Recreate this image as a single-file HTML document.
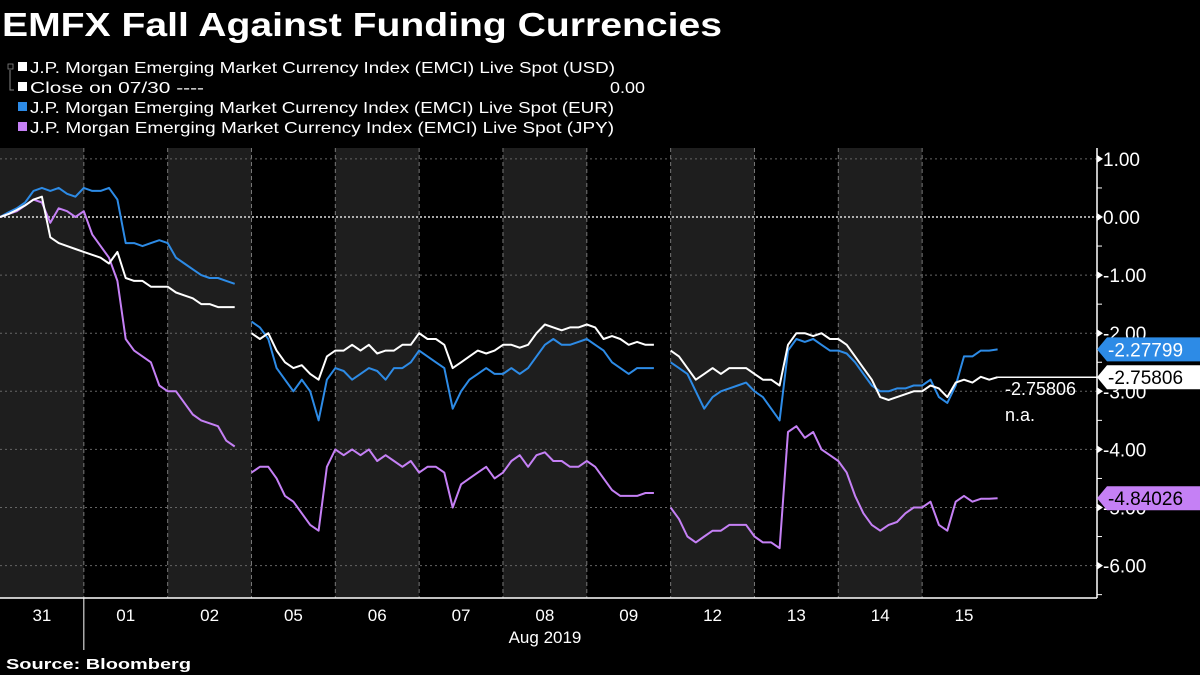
<!DOCTYPE html>
<html><head><meta charset="utf-8"><style>
body{margin:0;background:#000;width:1200px;height:675px;overflow:hidden;font-family:"Liberation Sans",sans-serif;color:#fff}
svg{position:absolute;left:0;top:0}
</style></head><body>
<svg width="1200" height="675">
<text x="2" y="36" font-size="33" font-weight="bold" fill="#fff" textLength="720" lengthAdjust="spacingAndGlyphs">EMFX Fall Against Funding Currencies</text>
<g font-size="16" fill="#fff">
 <rect x="8" y="64" width="5" height="5" fill="none" stroke="#888" stroke-width="0.8"/>
 <path d="M10 70 V90 H14" stroke="#888" fill="none"/>
 <rect x="18" y="62" width="9" height="9" fill="#fff"/><text x="30" y="73" textLength="585" lengthAdjust="spacingAndGlyphs">J.P. Morgan Emerging Market Currency Index (EMCI) Live Spot (USD)</text>
 <rect x="18" y="82" width="9" height="9" fill="#fff"/><text x="30" y="93" textLength="174" lengthAdjust="spacingAndGlyphs">Close on 07/30 ----</text>
 <text x="610" y="93" textLength="35" lengthAdjust="spacingAndGlyphs">0.00</text>
 <rect x="18" y="102" width="9" height="9" fill="#2d8be6"/><text x="30" y="113" textLength="584" lengthAdjust="spacingAndGlyphs">J.P. Morgan Emerging Market Currency Index (EMCI) Live Spot (EUR)</text>
 <rect x="18" y="122" width="9" height="9" fill="#c580f5"/><text x="30" y="133" textLength="584" lengthAdjust="spacingAndGlyphs">J.P. Morgan Emerging Market Currency Index (EMCI) Live Spot (JPY)</text>
</g>
<g id="plot"></g>
<text x="6" y="669" font-size="15" font-weight="bold" fill="#fff" textLength="185" lengthAdjust="spacingAndGlyphs">Source:  Bloomberg</text>
</svg>
<script>
const days=["31","01","02","05","06","07","08","09","12","13","14","15"];
const shaded=[1,0,1,0,1,0,1,0,1,0,1,0];
const yTicks=[1,0,-1,-2,-3,-4,-5,-6];
const usd=[0,0.05,0.12,0.2,0.3,0.35,-0.35,-0.45,-0.5,-0.55,
-0.6,-0.65,-0.7,-0.8,-0.6,-1.05,-1.1,-1.1,-1.2,-1.2,
-1.2,-1.3,-1.35,-1.4,-1.5,-1.5,-1.55,-1.55,-1.55,null,
-2.0,-2.1,-2.0,-2.3,-2.5,-2.6,-2.55,-2.7,-2.8,-2.4,
-2.3,-2.3,-2.2,-2.3,-2.2,-2.35,-2.3,-2.3,-2.2,-2.2,
-2.0,-2.1,-2.1,-2.2,-2.6,-2.5,-2.4,-2.3,-2.35,-2.3,
-2.2,-2.2,-2.25,-2.2,-2.0,-1.85,-1.9,-1.95,-1.9,-1.9,
-1.85,-1.9,-2.1,-2.05,-2.1,-2.2,-2.15,-2.2,-2.2,null,
-2.3,-2.4,-2.6,-2.8,-2.7,-2.6,-2.7,-2.6,-2.6,-2.6,
-2.7,-2.8,-2.8,-2.9,-2.2,-2.0,-2.0,-2.05,-2.0,-2.1,
-2.1,-2.2,-2.4,-2.6,-2.8,-3.1,-3.15,-3.1,-3.05,-3.0,
-3.0,-2.9,-2.95,-3.1,-2.85,-2.8,-2.85,-2.75,-2.8,-2.758];
const eur=[0,0.08,0.15,0.25,0.45,0.5,0.45,0.5,0.4,0.35,
0.5,0.45,0.45,0.5,0.3,-0.45,-0.45,-0.5,-0.45,-0.4,
-0.45,-0.7,-0.8,-0.9,-1.0,-1.05,-1.05,-1.1,-1.15,null,
-1.8,-1.9,-2.1,-2.6,-2.8,-3.0,-2.8,-3.0,-3.5,-2.8,
-2.6,-2.65,-2.8,-2.7,-2.6,-2.65,-2.8,-2.6,-2.6,-2.5,
-2.3,-2.4,-2.5,-2.6,-3.3,-3.0,-2.8,-2.7,-2.6,-2.7,
-2.7,-2.6,-2.7,-2.6,-2.4,-2.2,-2.1,-2.2,-2.2,-2.15,
-2.1,-2.2,-2.3,-2.5,-2.6,-2.7,-2.6,-2.6,-2.6,null,
-2.5,-2.6,-2.7,-3.0,-3.3,-3.1,-3.0,-2.95,-2.9,-2.85,
-3.0,-3.1,-3.3,-3.5,-2.3,-2.1,-2.15,-2.1,-2.2,-2.3,
-2.3,-2.35,-2.5,-2.7,-2.9,-3.0,-3.0,-2.95,-2.95,-2.9,
-2.9,-2.8,-3.1,-3.2,-2.9,-2.4,-2.4,-2.3,-2.3,-2.278];
const jpy=[0,0.05,0.1,0.2,0.3,0.25,-0.1,0.15,0.1,0.0,
0.1,-0.3,-0.5,-0.7,-1.1,-2.1,-2.3,-2.4,-2.5,-2.9,
-3.0,-3.0,-3.2,-3.4,-3.5,-3.55,-3.6,-3.85,-3.95,null,
-4.4,-4.3,-4.3,-4.5,-4.8,-4.9,-5.1,-5.3,-5.4,-4.3,
-4.0,-4.1,-4.0,-4.1,-4.0,-4.2,-4.1,-4.2,-4.3,-4.2,
-4.4,-4.3,-4.3,-4.4,-5.0,-4.6,-4.5,-4.4,-4.3,-4.5,
-4.4,-4.2,-4.1,-4.3,-4.1,-4.05,-4.2,-4.2,-4.3,-4.3,
-4.2,-4.3,-4.5,-4.7,-4.8,-4.8,-4.8,-4.75,-4.75,null,
-5.0,-5.2,-5.5,-5.6,-5.5,-5.4,-5.4,-5.3,-5.3,-5.3,
-5.5,-5.6,-5.6,-5.7,-3.7,-3.6,-3.8,-3.7,-4.0,-4.1,
-4.2,-4.4,-4.8,-5.1,-5.3,-5.4,-5.3,-5.25,-5.1,-5.0,
-5.0,-4.9,-5.3,-5.4,-4.9,-4.8,-4.9,-4.85,-4.85,-4.84];
const lastVals=["-2.27799","-2.75806","-4.84026"];
const DW=83.83, PT=148, PB=598, AX=1097;
const X=i=>i/10*DW;
const Y=v=>217-v*58.1;
const NS="http://www.w3.org/2000/svg";
const g=document.getElementById('plot');
function mk(t,a,parent){const e=document.createElementNS(NS,t);for(const k in a)e.setAttribute(k,a[k]);(parent||g).appendChild(e);return e;}
days.forEach((d,i)=>{
 if(shaded[i]){const r=mk('rect',{x:i*DW,y:PT,width:DW,height:PB-PT,fill:'#1e1e1e'});
 
 }
 if(i>0){const l=mk('line',{x1:i*DW,x2:i*DW,y1:PT,y2:PB,stroke:'#777','stroke-dasharray':'4,3','stroke-width':1});
 
 }
 const t=mk('text',{x:i*DW+DW/2,y:621,'font-size':17,fill:'#fff','text-anchor':'middle'});t.textContent=d;
 
 
});
yTicks.forEach(v=>{
 const l=mk('line',{x1:0,x2:AX,y1:Y(v),y2:Y(v),stroke:v===0?'#ddd':'#666','stroke-dasharray':v===0?'2,2':'2,3','stroke-width':v===0?1.5:1});
 
 
 mk('path',{d:`M${AX} ${Y(v)-4} L${AX+6} ${Y(v)} L${AX} ${Y(v)+4}Z`,fill:'#fff'});
 const t=mk('text',{x:AX+6,y:Y(v)+7,'font-size':19,fill:'#fff'});t.textContent=v.toFixed(2);
 
 
 mk('line',{x1:AX,x2:AX+5,y1:Y(v-0.5),y2:Y(v-0.5),stroke:'#fff'});
});
mk('line',{x1:AX,x2:AX,y1:PT,y2:PB,stroke:'#fff','stroke-width':1.5});
mk('line',{x1:0,x2:AX,y1:PB,y2:PB,stroke:'#fff','stroke-width':1.5});
mk('line',{x1:DW,x2:DW,y1:PB,y2:650,stroke:'#fff','stroke-width':1});
const mt=mk('text',{x:545,y:643,'font-size':17,fill:'#fff','text-anchor':'middle'});mt.textContent='Aug 2019';


function line(arr,col,name){let d='',pen=false;arr.forEach((v,i)=>{if(v===null){pen=false;return;}d+=(pen?'L':'M')+X(i).toFixed(1)+' '+Y(v).toFixed(1);pen=true;});
 const p=mk('path',{d:d,fill:'none',stroke:col,'stroke-width':2,'stroke-linejoin':'round'});
 
 }
line(eur,'#2d8be6','series-eur');line(jpy,'#c580f5','series-jpy');line(usd,'#ffffff','series-usd');
const lastX=X(usd.length-1);
mk('line',{x1:lastX,x2:AX,y1:Y(usd[usd.length-1]),y2:Y(usd[usd.length-1]),stroke:'#fff','stroke-width':1.5});
const t1=mk('text',{x:1005,y:Y(usd[usd.length-1])+18,'font-size':18,fill:'#fff'});t1.textContent='-2.75806';


const t2=mk('text',{x:1005,y:Y(usd[usd.length-1])+44,'font-size':18,fill:'#fff'});t2.textContent='n.a.';


[[eur,'#2d8be6','#fff',lastVals[0]],[usd,'#fff','#000',lastVals[1]],[jpy,'#c580f5','#000',lastVals[2]]].forEach(([a,bg,fg,txt])=>{
 const y=Y(a[a.length-1]);
 const p=mk('path',{d:`M${AX} ${y} L${AX+10} ${y-12} H1200 V${y+12} H${AX+10}Z`,fill:bg});
 
 
 const t=mk('text',{x:AX+11,y:y+7,'font-size':19,fill:fg});t.textContent=txt;
 
 
});
</script>
</body></html>
